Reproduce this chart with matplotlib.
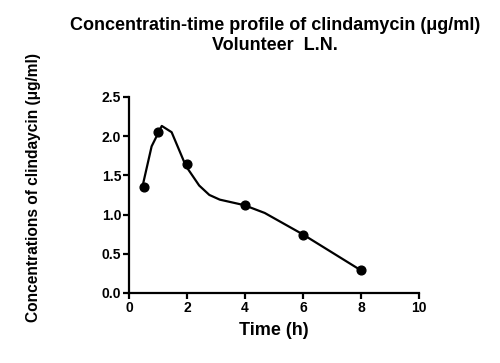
import matplotlib
matplotlib.use("Agg")
import matplotlib.pyplot as plt

# Observed data
time_h = [0.5, 1, 2, 4, 6, 8]
conc = [1.35, 2.05, 1.64, 1.12, 0.74, 0.29]

# Fitted curve
fit_t = [0.46, 0.78, 1.13, 1.47, 1.96, 2.42, 2.77, 3.13, 3.97, 4.68, 5.98, 7.99]
fit_c = [1.35, 1.87, 2.13, 2.05, 1.62, 1.37, 1.25, 1.19, 1.12, 1.02, 0.75, 0.29]

xticks = [0, 2, 4, 6, 8, 10]
yticks = [0.0, 0.5, 1.0, 1.5, 2.0, 2.5]

plt.rcParams['font.family'] = ['Liberation Sans', 'DejaVu Sans']
plt.rcParams['font.weight'] = 'bold'

fig = plt.figure(figsize=(5, 3.63), dpi=100)
ax = fig.add_axes([0.258, 0.193, 0.58, 0.54])

ax.plot(fit_t, fit_c, color='black', lw=1.6, zorder=2)
ax.plot(time_h, conc, 'o', color='black', ms=6.3, zorder=3)

ax.set_xlim(0, 10)
ax.set_ylim(0, 2.5)
ax.set_xticks(xticks)
ax.set_yticks(yticks)
ax.set_xticklabels([str(v) for v in xticks], fontsize=10, fontweight='bold')
ax.set_yticklabels([f"{v:.1f}" for v in yticks], fontsize=10, fontweight='bold')

for s in ['top', 'right']:
    ax.spines[s].set_visible(False)
for s in ['left', 'bottom']:
    ax.spines[s].set_linewidth(1.6)
ax.tick_params(width=1.6, length=4, pad=1.5)

ax.set_xlabel('Time (h)', fontsize=13, fontweight='bold')
ax.xaxis.set_label_coords(0.5, -0.194)
ax.xaxis.label.set_va('center')
ax.set_ylabel('Concentrations of clindaycin (μg/ml)', fontsize=11.2, fontweight='bold')
ax.yaxis.set_label_coords(-0.328, 0.536)
ax.yaxis.label.set_va('center')

fig.text(0.55, 0.902, 'Concentratin-time profile of clindamycin (μg/ml)\nVolunteer  L.N.',
         ha='center', va='center', fontsize=13, fontweight='bold', linespacing=1.18)

fig.savefig('out.png', dpi=100)
